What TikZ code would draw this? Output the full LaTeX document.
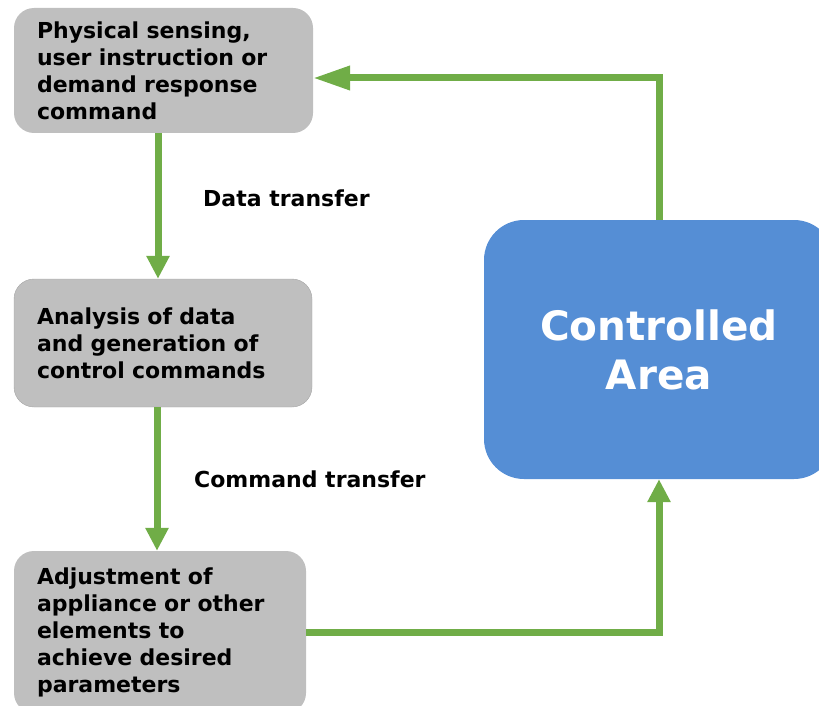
\documentclass[tikz,border=0pt]{standalone}
\usepackage{fontspec}
\setmainfont{DejaVu Sans}
\usepackage{xcolor}
\usetikzlibrary{arrows.meta,positioning,shapes}
\definecolor{boxgray}{HTML}{BFBFBF}
\definecolor{areablue}{HTML}{558ED5}
\definecolor{flowgreen}{HTML}{70AD47}

\begin{document}
\begin{tikzpicture}[x=1pt,y=-1pt,% pixel grid of the picture, y runs downwards
			every node/.style={
				font=\bfseries\fontsize{22}{27}\selectfont
			},
			task/.style={rectangle,rounded corners=20pt,fill=boxgray,
				align=left,inner xsep=23pt,inner ysep=0pt},% text starts 23pt in from the left edge
			area/.style={rectangle,rounded corners=40pt,fill=areablue,text=white,
				minimum width=350pt,minimum height=259pt,align=center,
				font=\bfseries\fontsize{40.5}{49}\selectfont},
			flow/.style={draw=flowgreen,line width=7pt,-{Triangle[width=22pt,length=23pt]}},
			lbl/.style={anchor=west,inner sep=0pt}
		]
		\clip (0,0) rectangle (819,706);
		\node[task,text width=253pt,minimum height=125pt](R1) at (163.5,70.5){Physical sensing, \\ user instruction or \\ demand response \\ command};
		\node[task,text width=252pt,minimum height=128pt,draw=gray!70,thin](R2) at (163,343){Analysis of data \\ and generation of \\ control commands};
		\node[task,text width=246pt,minimum height=162pt](R3) at (160,632){Adjustment of \\ appliance or other \\ elements to \\ achieve desired \\ parameters};
		\node[area](CA) at (659,349.5){Controlled \\ Area};
		\node[lbl](L1) at (203,198){Data transfer};
		\node[lbl](L2) at (194,479){Command transfer};
		\draw[flow] ([xshift=-5.5pt]R1.south) -- ([xshift=-5.5pt]R1.south |- R2.north);
		\draw[flow] ([xshift=-6pt]R2.south) -- ([xshift=-6pt]R2.south |- R3.north);
		\draw[flow] (R3) -| (CA);
		\draw[flow,-{Triangle[width=23pt,length=37pt]}] (CA.north) |- ([yshift=-7.5pt]R1.east);
	\end{tikzpicture}
\end{document}
